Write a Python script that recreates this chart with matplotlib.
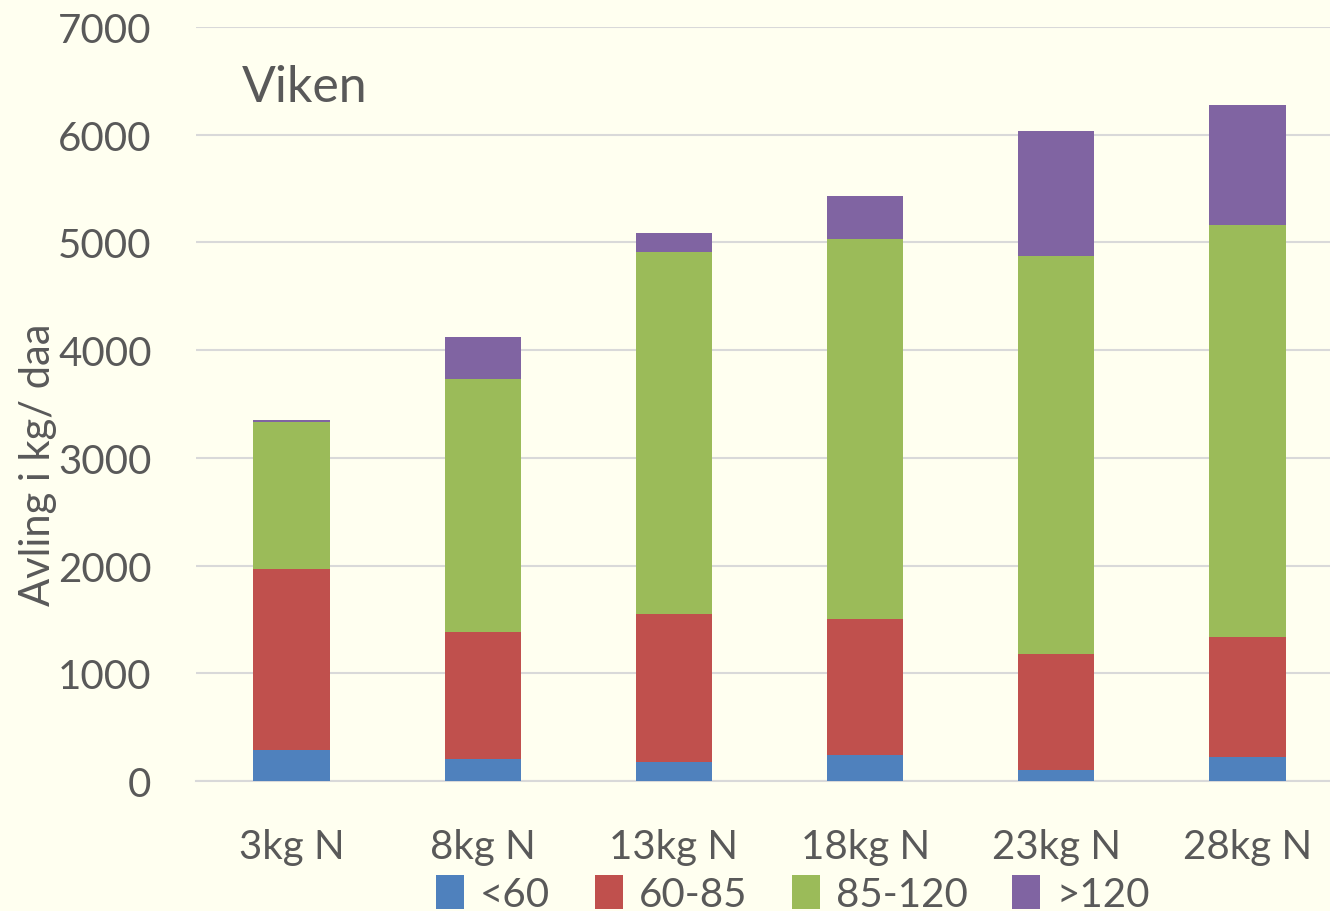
import numpy as np
import matplotlib.pyplot as plt

plt.rcParams['font.family'] = ['Lato', 'DejaVu Sans']

# data
categories = ['3kg N', '8kg N', '13kg N', '18kg N', '23kg N', '28kg N']
series_names = ['<60', '60-85', '85-120', '>120']
under_60 = [288, 204, 176, 241, 102, 223]
from_60_85 = [1680, 1179, 1374, 1263, 1077, 1114]
from_85_120 = [1365, 2349, 3362, 3528, 3696, 3825]
over_120 = [19, 390, 176, 400, 1160, 1115]
colors = ['#4F81BD', '#C0504D', '#9BBB59', '#8064A2']

bg = '#FFFFF0'
txt = '#595959'

fig = plt.figure(figsize=(13.3, 9.12), dpi=100, facecolor=bg)
ax = fig.add_axes([196/1330, 130/912, 1147/1330, 754/912])
ax.set_facecolor(bg)

x = np.arange(len(categories))
bottom = np.zeros(len(categories))
for name, vals, c in zip(series_names, [under_60, from_60_85, from_85_120, over_120], colors):
    ax.bar(x, vals, width=0.4, bottom=bottom, color=c, label=name, zorder=3)
    bottom += np.array(vals)

ax.set_xlim(-0.5, len(categories) - 0.5)
ax.set_ylim(0, 7000)
ax.set_yticks(range(0, 7001, 1000))
ax.grid(axis='y', color='#D9D9D9', linewidth=1.5, zorder=0)
for s in ['top', 'right', 'left']:
    ax.spines[s].set_visible(False)
ax.spines['bottom'].set_color('#D9D9D9')
ax.spines['bottom'].set_linewidth(1.5)
ax.tick_params(axis='both', length=0, labelsize=29, colors=txt)
ax.tick_params(axis='y', pad=32)
ax.tick_params(axis='x', pad=34)
ax.set_xticks(x)
ax.set_xticklabels(categories)

fig.text(242/1330, (912-88)/912, 'Viken', fontsize=36,
         color=txt, va='center', ha='left')
fig.text(38/1330, (912-465)/912, 'Avling i kg/ daa', rotation=90, fontsize=30,
         color=txt, va='center', ha='center')

fig.legend(loc='center', bbox_to_anchor=(793/1330, 17/912), ncol=4, frameon=False,
           fontsize=29, labelcolor=txt, handlelength=0.7, handleheight=0.9,
           handletextpad=0.4, columnspacing=1.1, borderpad=0)

fig.savefig('out.png', dpi=100, facecolor=bg)
